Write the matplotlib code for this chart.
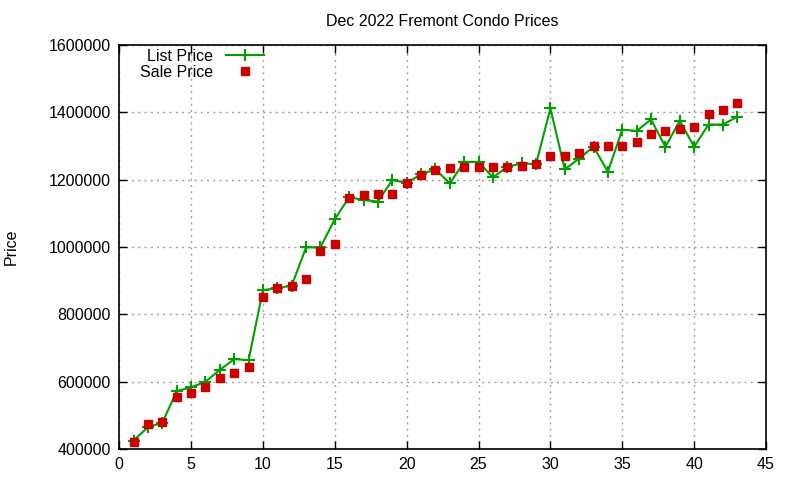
import matplotlib
matplotlib.use('Agg')
import matplotlib.pyplot as plt

plt.rcParams['font.family'] = ['Liberation Sans', 'DejaVu Sans']

# index of listing, 1..43
idx = list(range(1, 44))

list_price = [425000, 465000, 478000, 572000, 583000, 600000, 635000, 667000, 664000, 872000,
              878000, 885000, 999000, 999000, 1083000, 1148000, 1140000, 1135000, 1199000, 1191000,
              1216000, 1231000, 1189000, 1253000, 1253000, 1207000, 1238000, 1249000, 1246000, 1412000,
              1231000, 1263000, 1298000, 1224000, 1349000, 1345000, 1379000, 1298000, 1375000, 1298000,
              1364000, 1364000, 1387000]

sale_price = [421000, 474000, 481000, 555000, 567000, 585000, 612000, 627000, 644000, 852000,
              879000, 885000, 906000, 989000, 1010000, 1146000, 1154000, 1158000, 1158000, 1191000,
              1215000, 1230000, 1236000, 1238000, 1238000, 1238000, 1238000, 1241000, 1246000, 1271000,
              1271000, 1278000, 1301000, 1301000, 1301000, 1311000, 1337000, 1345000, 1352000, 1357000,
              1396000, 1407000, 1428000]

fig = plt.figure(figsize=(8, 4.8), dpi=100)
ax = fig.add_axes([0.149, 0.0646, 0.8085, 0.8414])

ax.plot(idx, list_price, color='#00a000', linewidth=1.5, marker='+', markersize=9,
        markeredgewidth=1.5, label='List Price', zorder=3)
ax.plot(idx, sale_price, linestyle='none', marker='s', markersize=6.3, color='#cc0000',
        label='Sale Price', zorder=4)

ax.set_xlim(0, 45)
ax.set_ylim(400000, 1600000)
ax.set_xticks(range(0, 46, 5))
ax.set_yticks(range(400000, 1600001, 200000))
ax.ticklabel_format(style='plain', axis='y')
ax.tick_params(direction='in', top=True, right=True, length=6, width=1, labelsize=11.5, pad=6)
ax.grid(True, color='#a0a0a0', linestyle=(0, (1.5, 3)), linewidth=1)
for s in ax.spines.values():
    s.set_linewidth(1.2)

ax.set_title('Dec 2022 Fremont Condo Prices', fontsize=11.5, pad=14)
ax.set_ylabel('Price', fontsize=11.5)
ax.yaxis.set_label_coords(-0.155, 0.5)

ax.legend(loc='upper left', frameon=False, markerfirst=False, fontsize=11.5,
          handlelength=2.4, borderaxespad=0.1, labelspacing=0.05, bbox_to_anchor=(0.02, 1.01))

fig.savefig('out.png', dpi=100)
